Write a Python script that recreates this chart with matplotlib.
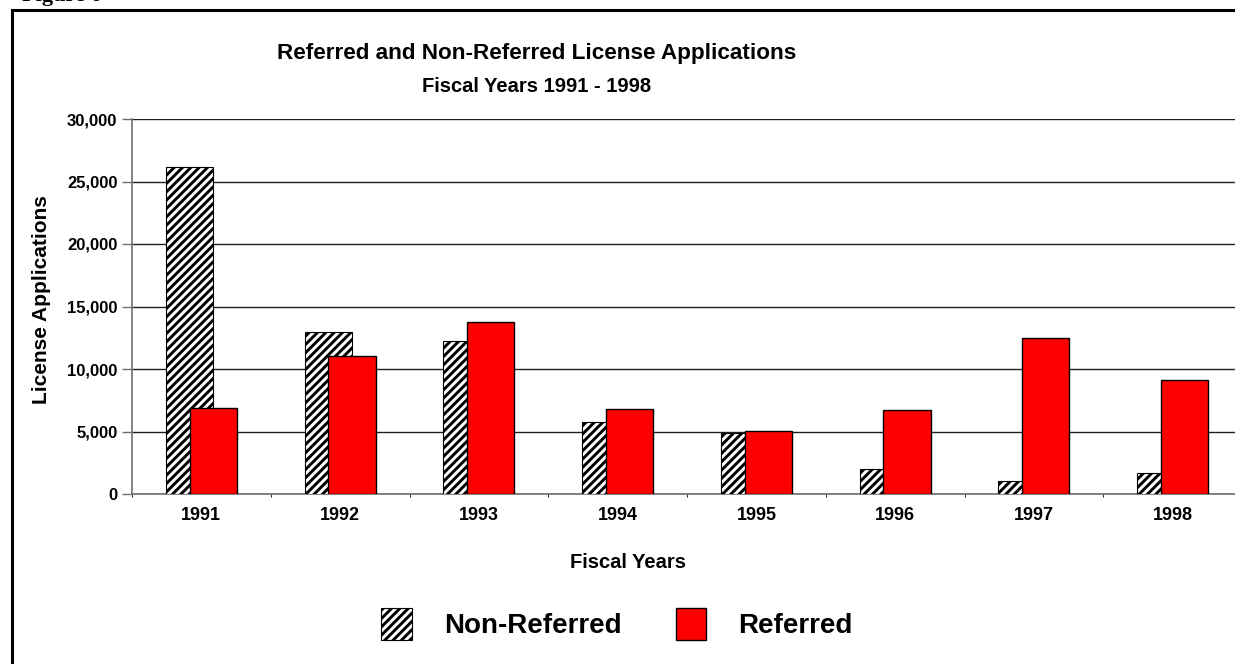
import matplotlib
matplotlib.use("Agg")
import matplotlib.pyplot as plt
from matplotlib.patches import Rectangle
from matplotlib.ticker import FuncFormatter, MultipleLocator
import numpy as np

years = ["1991", "1992", "1993", "1994", "1995", "1996", "1997", "1998"]
non_referred = [26180, 13000, 12270, 5800, 4870, 2000, 1040, 1650]
referred = [6900, 11020, 13800, 6770, 5060, 6720, 12450, 9100]

plt.rcParams['font.family'] = ['Liberation Sans', 'DejaVu Sans']
plt.rcParams['font.weight'] = 'bold'
plt.rcParams['hatch.linewidth'] = 2.1

W, H = 1235, 664
fig = plt.figure(figsize=(W / 100, H / 100), dpi=100)

# plot area runs past the right edge, as in the scanned page
ax = fig.add_axes([132 / W, 1 - 494 / H, 1110 / W, 375 / H])

x = np.arange(len(years))
bw = 0.34
off = 0.085
ax.bar(x - off, non_referred, bw, facecolor='white', edgecolor='black',
       hatch='////', linewidth=0.8, zorder=3, label='Non-Referred')
ax.bar(x + off, referred, bw, facecolor='#ff0000', edgecolor='black',
       linewidth=1.0, zorder=4, label='Referred')

ax.set_xlim(-0.5, len(years) - 0.5)
ax.set_ylim(0, 30000)
ax.yaxis.set_major_locator(MultipleLocator(5000))
ax.yaxis.set_major_formatter(FuncFormatter(lambda v, p: f"{int(v):,}"))
ax.grid(axis='y', color='#202020', linewidth=1.0, zorder=1)

ax.set_xticks(x)
ax.set_xticklabels(years)
ax.set_xticks(np.arange(len(years) + 1) - 0.5, minor=True)
ax.tick_params(axis='x', which='major', length=0, pad=9, labelsize=13)
ax.tick_params(axis='x', which='minor', length=2, color='black')
ax.tick_params(axis='y', length=7, width=1, color='#707070', pad=3.5,
               labelsize=12)

for s in ['top', 'right']:
    ax.spines[s].set_visible(False)
for s in ['left', 'bottom']:
    ax.spines[s].set_color('#707070')
    ax.spines[s].set_linewidth(1.2)

fig.text(537 / W, 1 - 53 / H, "Referred and Non-Referred License Applications",
         ha='center', va='center', fontsize=16.2, fontweight='bold')
fig.text(537 / W, 1 - 86 / H, "Fiscal Years 1991 - 1998",
         ha='center', va='center', fontsize=14.5, fontweight='bold')
fig.text(42 / W, 1 - 300 / H, "License Applications", rotation=90,
         ha='center', va='center', fontsize=15, fontweight='bold')
fig.text(628 / W, 1 - 562 / H, "Fiscal Years",
         ha='center', va='center', fontsize=14.5, fontweight='bold')

# page caption cut off at the top edge
fig.text(22 / W, 1 - 1 / H, "Figure 6", ha='left', va='baseline',
         fontsize=16, fontweight='bold', family='Liberation Serif')

# page frame
fig.patches.append(Rectangle((11.5 / W, -0.1), 1.2, 1 - 9.7 / H + 0.1,
                             transform=fig.transFigure, fill=False,
                             edgecolor='black', linewidth=2.2))

fig.legend(loc='center', bbox_to_anchor=(617 / W, 1 - 624 / H), ncol=2,
           frameon=False, prop={'weight': 'bold', 'size': 20},
           handlelength=1.1, handleheight=1.35, handletextpad=1.15,
           columnspacing=1.95)

fig.savefig("out.png", dpi=100)
